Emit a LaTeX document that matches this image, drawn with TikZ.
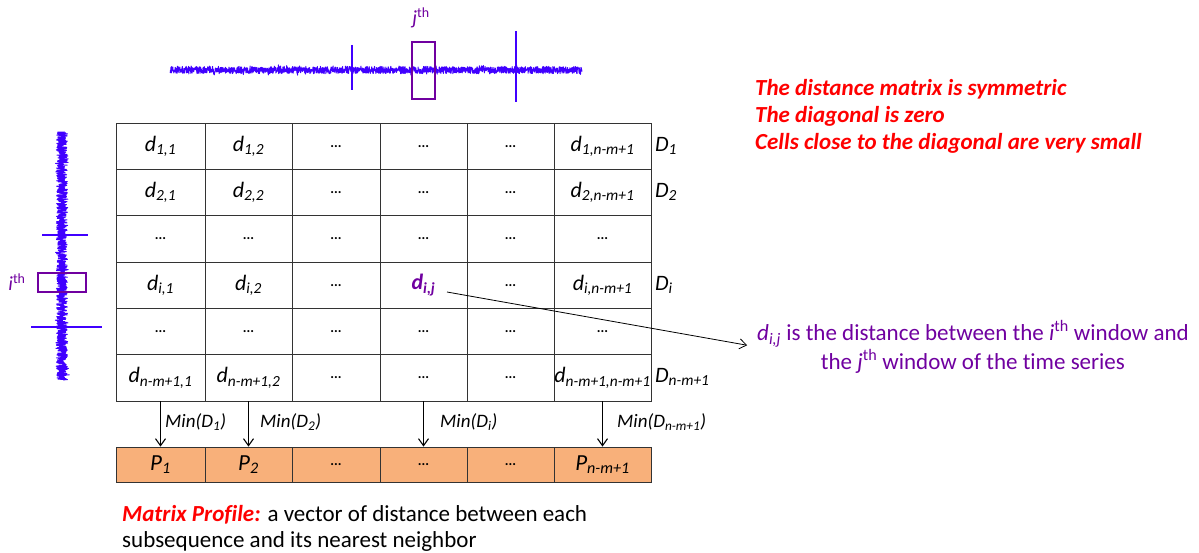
\documentclass[tikz,border=0pt]{standalone}
\usepackage{fontspec}
\setmainfont{Carlito}[Ligatures=NoCommon]
\usetikzlibrary{arrows.meta}
\definecolor{tsblue}{RGB}{64,0,255}
\definecolor{winpurple}{RGB}{112,0,160}
\definecolor{profile}{RGB}{248,176,122}
\newcommand\dd[1]{d\textsubscript{#1}}
\newcommand\dts{{\upshape\bfseries\fontsize{14}{14}\selectfont ...}}
\newcommand\mc[5]{\node[cell, minimum width=#4pt] (#1) at (#2,#3) {#5};}
\newcommand\pc[4]{\node[pcell, minimum width=#3pt] (#1) at (#2,464.5) {#4};}
\tikzset{
  cell/.style={draw=black!80, line width=0.8pt, inner sep=0pt, minimum height=46.33pt, font=\fontsize{22}{24}\selectfont\itshape},
  pcell/.style={draw=black!80, line width=0.8pt, fill=profile, inner sep=0pt, minimum height=35pt, font=\fontsize{23}{25}\selectfont\itshape},
  rlab/.style={anchor=west, inner sep=0pt, font=\fontsize{22}{24}\selectfont\itshape},
  minlab/.style={anchor=west, inner sep=0pt, font=\fontsize{19}{21}\selectfont\itshape},
  arr/.style={-{Straight Barb[length=7pt, width=10pt]}, line width=1.1pt},
  series/.style={tsblue, line width=1pt, line join=round},
  winbox/.style={draw=winpurple, line width=1.8pt, inner sep=0pt},
  facts/.style={anchor=base west, inner sep=0pt, text=red, font=\fontsize{23}{26}\selectfont\bfseries\itshape},
}
\begin{document}
\begin{tikzpicture}[x=1pt, y=-1pt]
\useasboundingbox (0,0) rectangle (1199,553);
\fill[white] (0,0) rectangle (1199,553);
% top time series
\pgfmathsetseed{7}
\draw[series] plot[samples=1600, domain=170:582] (\x, {70 + 3.6*rand + 7*rand*rand*rand*rand*rand});
\draw[series, line width=1.1pt] (352,45) -- (352,90);
\draw[series, line width=2.4pt] (352,60) -- (352,80);
\draw[series, line width=1.1pt] (516,31) -- (516,102);
\draw[series, line width=2.6pt] (516,58) -- (516,82);
% left time series
\draw[series] plot[samples=1200, domain=132:380] ({62 + 5.5*rand + 7*rand*rand*rand*rand*rand}, \x);
\draw[series, line width=1.1pt] (42,235) -- (88,235);
\draw[series, line width=1.1pt] (31,327) -- (102,327);
% windows
\node[winbox, minimum width=48pt, minimum height=19pt] (ibox) at (62,282.5) {};
\node[winbox, minimum width=23pt, minimum height=57pt] (jbox) at (423.5,70.5) {};
\node[text=winpurple, inner sep=0pt, font=\fontsize{20}{22}\selectfont] (ilab) at (17,282) {\itshape i\textsuperscript{\upshape th}};
\node[text=winpurple, inner sep=0pt, font=\fontsize{20}{22}\selectfont] (jlab) at (421,18) {\itshape j\textsuperscript{\upshape th}};
% matrix
\mc{m11}{160.5}{146.2}{89}{\dd{1,1}}
\mc{m12}{248.5}{146.2}{87}{\dd{1,2}}
\mc{m13}{336}{146.2}{88}{\dts}
\mc{m14}{423.5}{146.2}{87}{\dts}
\mc{m15}{510.5}{146.2}{87}{\dts}
\mc{m16}{602.5}{146.2}{97}{\dd{1,n-m+1}}
\mc{m21}{160.5}{192.5}{89}{\dd{2,1}}
\mc{m22}{248.5}{192.5}{87}{\dd{2,2}}
\mc{m23}{336}{192.5}{88}{\dts}
\mc{m24}{423.5}{192.5}{87}{\dts}
\mc{m25}{510.5}{192.5}{87}{\dts}
\mc{m26}{602.5}{192.5}{97}{\dd{2,n-m+1}}
\mc{m31}{160.5}{238.8}{89}{\dts}
\mc{m32}{248.5}{238.8}{87}{\dts}
\mc{m33}{336}{238.8}{88}{\dts}
\mc{m34}{423.5}{238.8}{87}{\dts}
\mc{m35}{510.5}{238.8}{87}{\dts}
\mc{m36}{602.5}{238.8}{97}{\dts}
\mc{m41}{160.5}{285.2}{89}{\dd{i,1}}
\mc{m42}{248.5}{285.2}{87}{\dd{i,2}}
\mc{m43}{336}{285.2}{88}{\dts}
\mc{m44}{423.5}{285.2}{87}{\textcolor{winpurple}{\bfseries\dd{i,j}}}
\mc{m45}{510.5}{285.2}{87}{\dts}
\mc{m46}{602.5}{285.2}{97}{\dd{i,n-m+1}}
\mc{m51}{160.5}{331.5}{89}{\dts}
\mc{m52}{248.5}{331.5}{87}{\dts}
\mc{m53}{336}{331.5}{88}{\dts}
\mc{m54}{423.5}{331.5}{87}{\dts}
\mc{m55}{510.5}{331.5}{87}{\dts}
\mc{m56}{602.5}{331.5}{97}{\dts}
\mc{m61}{160.5}{377.8}{89}{\dd{n-m+1,1}}
\mc{m62}{248.5}{377.8}{87}{\dd{n-m+1,2}}
\mc{m63}{336}{377.8}{88}{\dts}
\mc{m64}{423.5}{377.8}{87}{\dts}
\mc{m65}{510.5}{377.8}{87}{\dts}
\mc{m66}{602.5}{377.8}{97}{\dd{n-m+1,n-m+1}}
% row labels
\node[rlab] (D1) at (655,146) {D\textsubscript{1}};
\node[rlab] (D2) at (655,192) {D\textsubscript{2}};
\node[rlab] (Di) at (655,285) {D\textsubscript{i}};
\node[rlab] (Dn) at (655,377) {D\textsubscript{n-m+1}};
% profile vector
\pc{p1}{160.5}{89}{P\textsubscript{1}}
\pc{p2}{248.5}{87}{P\textsubscript{2}}
\pc{p3}{336}{88}{\dts}
\pc{p4}{423.5}{87}{\dts}
\pc{p5}{510.5}{87}{\dts}
\pc{p6}{602.5}{97}{P\textsubscript{n-m+1}}
% min arrows
\draw[arr] (m61.south) -- (p1.north);
\draw[arr] (m62.south) -- (p2.north);
\draw[arr] (m64.south) -- (p4.north);
\draw[arr] (m66.south) -- (p6.north);
\node[minlab] (min1) at (165,422) {Min(D\textsubscript{1})};
\node[minlab] (min2) at (260,422) {Min(D\textsubscript{2})};
\node[minlab] (mini) at (440,422) {Min(D\textsubscript{i})};
\node[minlab] (minn) at (617,422) {Min(D\textsubscript{n-m+1})};
% annotation
\node[anchor=west, inner sep=0pt, align=center, text=winpurple, font=\fontsize{23}{29}\selectfont] (note) at (757,347)
  {{\itshape d}\textsubscript{\itshape i,j} is the distance between the {\itshape i}\textsuperscript{th} window and\\ the {\itshape j}\textsuperscript{th} window of the time series};
\coordinate (dijtail) at (447,292);
\draw[-{Straight Barb[length=7pt, width=10pt]}, line width=0.8pt, shorten >=10pt] (dijtail) -- (note.west);
% facts
\node[facts] (f1) at (755,96) {The distance matrix is symmetric};
\node[facts] (f2) at (755,123) {The diagonal is zero};
\node[facts] (f3) at (755,150) {Cells close to the diagonal are very small};
% caption
\node[anchor=base west, inner sep=0pt, font=\fontsize{23}{26}\selectfont] (cap1) at (122,521) {\textcolor{red}{\bfseries\itshape Matrix Profile:} a vector of distance between each};
\node[anchor=base west, inner sep=0pt, font=\fontsize{23}{26}\selectfont] (cap2) at (122,547) {subsequence and its nearest neighbor};
\end{tikzpicture}
\end{document}
